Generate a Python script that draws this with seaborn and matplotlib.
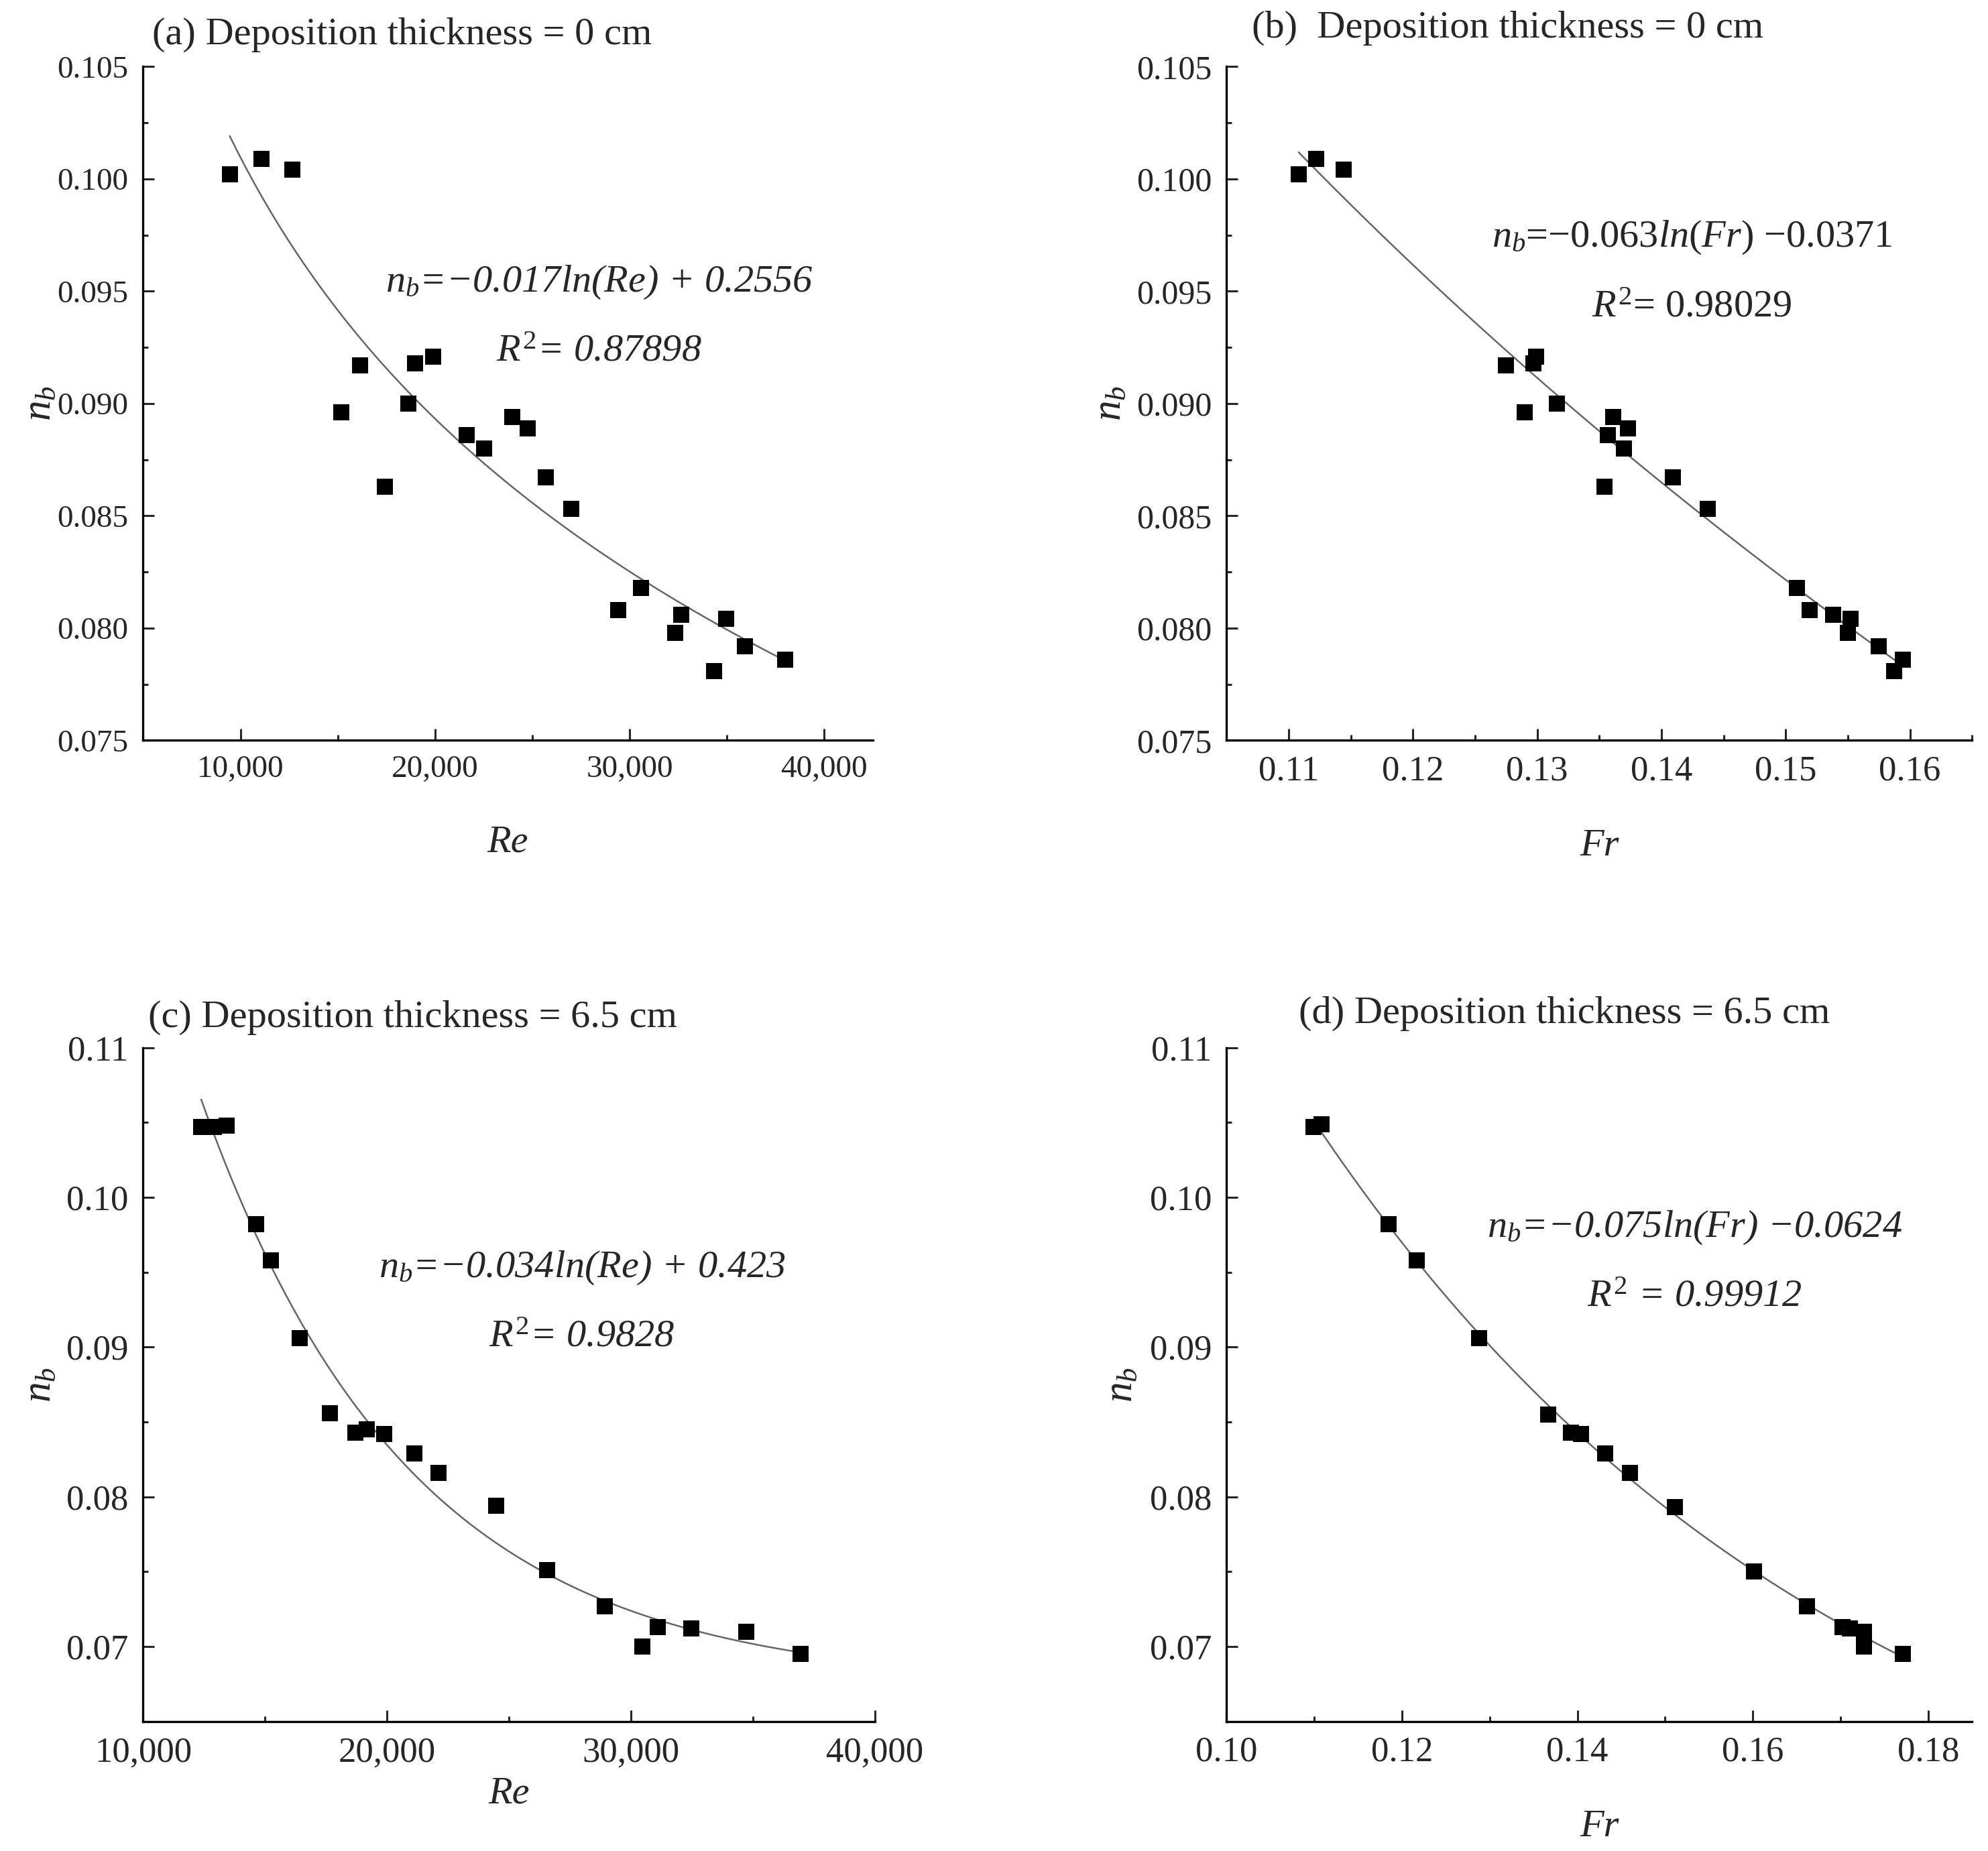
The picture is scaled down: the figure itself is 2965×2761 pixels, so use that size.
import matplotlib
matplotlib.use("Agg")
import numpy as np
import matplotlib.pyplot as plt
from matplotlib.ticker import MultipleLocator, FuncFormatter, FormatStrFormatter
import seaborn as sns

# (a) n_b vs Re, deposition 0 cm
re_a = [9450, 11080, 12680, 15170, 16160, 17410, 18620, 18990, 19920, 21640, 22540,
        23980, 24750, 25710, 27000, 29400, 30600, 32330, 32670, 34330, 34950, 35930, 38000]
nb_a = [0.1002, 0.1009, 0.1004, 0.0896, 0.0917, 0.0863, 0.0900, 0.0918, 0.0921, 0.0886, 0.0880,
        0.0894, 0.0889, 0.0867, 0.0853, 0.0808, 0.0818, 0.0798, 0.0806, 0.0781, 0.0804, 0.0792, 0.0786]

# (b) n_b vs Fr, deposition 0 cm
fr_b = [0.1108, 0.1122, 0.1144, 0.1275, 0.1290, 0.1297, 0.1299, 0.1316, 0.1354, 0.1357, 0.1361,
        0.1370, 0.1373, 0.1409, 0.1437, 0.1509, 0.1519, 0.1538, 0.1550, 0.1552, 0.1575, 0.1587, 0.1594]
nb_b = [0.1002, 0.1009, 0.1004, 0.0917, 0.0896, 0.0918, 0.0921, 0.0900, 0.0863, 0.0886, 0.0894,
        0.0880, 0.0889, 0.0867, 0.0853, 0.0818, 0.0808, 0.0806, 0.0798, 0.0804, 0.0792, 0.0781, 0.0786]

# (c) n_b vs Re, deposition 6.5 cm
re_c = [12380, 12900, 13420, 14640, 15230, 16430, 17660, 18690, 19180, 19890, 21120, 22120,
        24480, 26560, 28920, 30470, 31100, 32480, 34740, 36970]
nb_c = [0.1047, 0.1047, 0.1048, 0.0982, 0.0958, 0.0906, 0.0856, 0.0843, 0.0845, 0.0842, 0.0829, 0.0816,
        0.0794, 0.0751, 0.0727, 0.0700, 0.0713, 0.0712, 0.0710, 0.0695]

# (d) n_b vs Fr, deposition 6.5 cm
fr_d = [0.1099, 0.1108, 0.1185, 0.1217, 0.1288, 0.1367, 0.1393, 0.1404, 0.1432, 0.1460, 0.1511,
        0.1601, 0.1662, 0.1702, 0.1711, 0.1727, 0.1727, 0.1771]
nb_d = [0.1047, 0.1049, 0.0982, 0.0958, 0.0906, 0.0855, 0.0843, 0.0842, 0.0829, 0.0816, 0.0793,
        0.0750, 0.0727, 0.0713, 0.0712, 0.0710, 0.0700, 0.0695]

titles = ["(a) Deposition thickness = 0 cm", "(b)  Deposition thickness = 0 cm",
          "(c) Deposition thickness = 6.5 cm", "(d) Deposition thickness = 6.5 cm"]
equations = [r"$n_b$=−0.017ln(Re) + 0.2556", r"$n_b$=−0.063$ln(Fr)$ −0.0371",
             r"$n_b$=−0.034ln(Re) + 0.423", r"$n_b$=−0.075ln(Fr) −0.0624"]
r2_texts = [r"$R^2$= 0.87898", r"$R^2$= 0.98029", r"$R^2$= 0.9828", r"$R^2$ = 0.99912"]
eq_italic = [True, False, True, True]
xlabels = ["Re", "Fr", "Re", "Fr"]
# trend model per panel: log fit (regplot) or exponential decay
fit_kind = ["log", "log", "exp", "exp"]


def exp_decay_fit(x, y, n=300):
    """least squares y = y0 + A*exp(-(x-x0)/t), grid search on t"""
    x = np.asarray(x, float)
    y = np.asarray(y, float)
    x0 = x.min()
    span = x.max() - x0
    best = None
    for t in np.geomspace(span * 0.02, span * 50, 3000):
        X = np.column_stack([np.ones_like(x), np.exp(-(x - x0) / t)])
        coef, *_ = np.linalg.lstsq(X, y, rcond=None)
        sse = np.sum((X @ coef - y) ** 2)
        if best is None or sse < best[0]:
            best = (sse, t, coef)
    _, t, coef = best
    xs = np.linspace(x.min(), x.max(), n)
    return xs, coef[0] + coef[1] * np.exp(-(xs - x0) / t)


sns.set_style("ticks")
plt.rcParams["font.family"] = ["Liberation Serif", "DejaVu Serif"]
plt.rcParams["mathtext.fontset"] = "custom"
plt.rcParams["mathtext.rm"] = "Liberation Serif"
plt.rcParams["mathtext.it"] = "Liberation Serif:italic"
plt.rcParams["mathtext.bf"] = "Liberation Serif:bold"

fig = plt.figure(figsize=(14.825, 13.805), dpi=200)
boxes = [[0.072, 0.600, 0.367, 0.364], [0.617, 0.600, 0.375, 0.364],
         [0.072, 0.070, 0.368, 0.364], [0.617, 0.070, 0.375, 0.364]]
axes = [fig.add_axes(b) for b in boxes]

data = [(re_a, nb_a), (fr_b, nb_b), (re_c, nb_c), (fr_d, nb_d)]
line_style = dict(color="#666666", lw=0.9, zorder=2)
for ax, (x, y), kind in zip(axes, data, fit_kind):
    sns.regplot(x=x, y=y, ax=ax, logx=True, ci=None, marker="s", color="black",
                fit_reg=(kind == "log"),
                scatter_kws=dict(s=80, alpha=1, linewidths=0, zorder=3),
                line_kws=line_style)
    if kind == "exp":
        xs, ys = exp_decay_fit(x, y)
        sns.lineplot(x=xs, y=ys, ax=ax, **line_style)

comma = FuncFormatter(lambda v, p: f"{v:,.0f}")
settings = [
    dict(xlim=(5000, 42500), ylim=(0.075, 0.105), xmaj=10000, xmin=5000, ymaj=0.005, ymin=0.0025,
         xfmt=comma, yfmt=FormatStrFormatter("%.3f"), xls=17, yls=17),
    dict(xlim=(0.105, 0.165), ylim=(0.075, 0.105), xmaj=0.01, xmin=0.005, ymaj=0.005, ymin=0.0025,
         xfmt=FormatStrFormatter("%.2f"), yfmt=FormatStrFormatter("%.3f"), xls=19, yls=18),
    dict(xlim=(10000, 40000), ylim=(0.065, 0.11), xmaj=10000, xmin=5000, ymaj=0.01, ymin=0.005,
         xfmt=comma, yfmt=FormatStrFormatter("%.2f"), xls=19, yls=19),
    dict(xlim=(0.10, 0.185), ylim=(0.065, 0.11), xmaj=0.02, xmin=0.01, ymaj=0.01, ymin=0.005,
         xfmt=FormatStrFormatter("%.2f"), yfmt=FormatStrFormatter("%.2f"), xls=19, yls=19),
]

title_pos = [(0.012, 1.047), (0.034, 1.057), (0.007, 1.045), (0.097, 1.051)]
eq_pos = [(0.625, 0.680, 0.577), (0.624, 0.746, 0.643), (0.600, 0.673, 0.570), (0.628, 0.733, 0.630)]
xlabel_pad = [22, 22, 4, 22]
ylabel_pad = [-1, 4, 4, 5]

for i, ax in enumerate(axes):
    s = settings[i]
    ax.set_xlim(*s["xlim"])
    ax.set_ylim(*s["ylim"])
    ax.xaxis.set_major_locator(MultipleLocator(s["xmaj"]))
    ax.xaxis.set_minor_locator(MultipleLocator(s["xmin"]))
    ax.yaxis.set_major_locator(MultipleLocator(s["ymaj"]))
    ax.yaxis.set_minor_locator(MultipleLocator(s["ymin"]))
    ax.xaxis.set_major_formatter(s["xfmt"])
    ax.yaxis.set_major_formatter(s["yfmt"])
    ax.tick_params(which="major", direction="in", length=6, width=1.1, pad=8)
    ax.tick_params(axis="x", labelsize=s["xls"])
    ax.tick_params(axis="y", labelsize=s["yls"])
    ax.tick_params(which="minor", direction="in", length=3, width=1.1)
    ax.tick_params(top=False, right=False, which="both")
    sns.despine(ax=ax)
    for sp in ["left", "bottom"]:
        ax.spines[sp].set_linewidth(1.2)
        ax.spines[sp].set_color("black")

    ax.set_xlabel(xlabels[i], fontsize=21, style="italic", labelpad=xlabel_pad[i])
    ax.set_ylabel(r"$n_b$", fontsize=22, labelpad=ylabel_pad[i])

    tx, ty = title_pos[i]
    ax.text(tx, ty, titles[i], transform=ax.transAxes, fontsize=21, va="center", ha="left")

    ex, ey1, ey2 = eq_pos[i]
    style = "italic" if eq_italic[i] else "normal"
    ax.text(ex, ey1, equations[i], transform=ax.transAxes, fontsize=21, style=style,
            ha="center", va="center")
    ax.text(ex, ey2, r2_texts[i], transform=ax.transAxes, fontsize=21, style=style,
            ha="center", va="center")

fig.savefig("out.png", dpi=200, facecolor="white")
